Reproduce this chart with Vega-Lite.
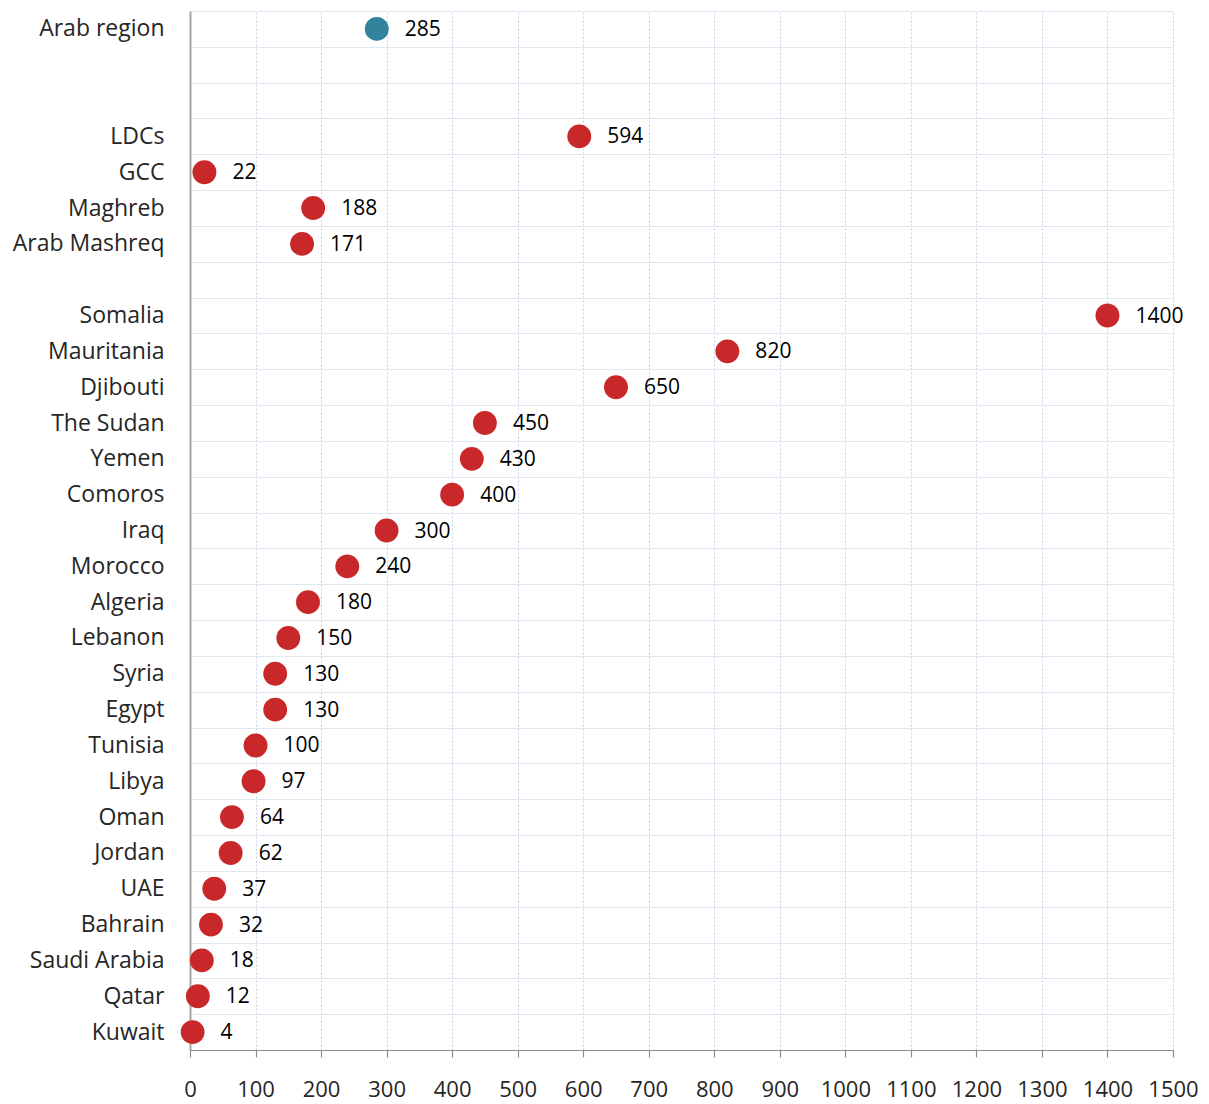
{
  "$schema": "https://vega.github.io/schema/vega-lite/v6.json",
  "autosize": {"type": "none"},
  "padding": {"left": 190, "top": 11, "right": 36, "bottom": 54},
  "width": 983,
  "height": 1039,
  "background": "white",
  "config": {"view": {"stroke": null}},
  "data": {"values": [
    {"name": "Arab region", "value": 285, "kind": "region"},
    {"name": "LDCs", "value": 594, "kind": "group"},
    {"name": "GCC", "value": 22, "kind": "group"},
    {"name": "Maghreb", "value": 188, "kind": "group"},
    {"name": "Arab Mashreq", "value": 171, "kind": "group"},
    {"name": "Somalia", "value": 1400, "kind": "country"},
    {"name": "Mauritania", "value": 820, "kind": "country"},
    {"name": "Djibouti", "value": 650, "kind": "country"},
    {"name": "The Sudan", "value": 450, "kind": "country"},
    {"name": "Yemen", "value": 430, "kind": "country"},
    {"name": "Comoros", "value": 400, "kind": "country"},
    {"name": "Iraq", "value": 300, "kind": "country"},
    {"name": "Morocco", "value": 240, "kind": "country"},
    {"name": "Algeria", "value": 180, "kind": "country"},
    {"name": "Lebanon", "value": 150, "kind": "country"},
    {"name": "Syria", "value": 130, "kind": "country"},
    {"name": "Egypt", "value": 130, "kind": "country"},
    {"name": "Tunisia", "value": 100, "kind": "country"},
    {"name": "Libya", "value": 97, "kind": "country"},
    {"name": "Oman", "value": 64, "kind": "country"},
    {"name": "Jordan", "value": 62, "kind": "country"},
    {"name": "UAE", "value": 37, "kind": "country"},
    {"name": "Bahrain", "value": 32, "kind": "country"},
    {"name": "Saudi Arabia", "value": 18, "kind": "country"},
    {"name": "Qatar", "value": 12, "kind": "country"},
    {"name": "Kuwait", "value": 4, "kind": "country"}
  ]},
  "encoding": {
    "y": {
      "field": "name",
      "type": "nominal",
      "scale": {
        "domain": ["Arab region", " ", "  ", "LDCs", "GCC", "Maghreb", "Arab Mashreq", "   ", "Somalia", "Mauritania", "Djibouti", "The Sudan", "Yemen", "Comoros", "Iraq", "Morocco", "Algeria", "Lebanon", "Syria", "Egypt", "Tunisia", "Libya", "Oman", "Jordan", "UAE", "Bahrain", "Saudi Arabia", "Qatar", "Kuwait"],
        "paddingInner": 0,
        "paddingOuter": 0
      },
      "axis": {
        "title": null,
        "ticks": false,
        "tickSize": 0,
        "tickBand": "extent",
        "labelPadding": 26,
        "labelFont": "Open Sans",
        "labelFontSize": 23,
        "labelColor": "#262626",
        "domainColor": "#a6a6a6",
        "domainWidth": 2,
        "grid": true,
        "gridColor": "#dfe7f3",
        "gridWidth": 1
      }
    },
    "x": {
      "field": "value",
      "type": "quantitative",
      "scale": {"domain": [0, 1500], "nice": false},
      "axis": {
        "title": null,
        "values": [0, 100, 200, 300, 400, 500, 600, 700, 800, 900, 1000, 1100, 1200, 1300, 1400, 1500],
        "format": "d",
        "tickSize": 7,
        "tickColor": "#8c8c8c",
        "tickWidth": 1.2,
        "domainColor": "#8c8c8c",
        "domainWidth": 1.2,
        "labelPadding": 22,
        "labelFont": "Open Sans",
        "labelFontSize": 22,
        "labelColor": "#262626",
        "labelFlush": false,
        "labelOverlap": false,
        "grid": true,
        "gridColor": "#c4d3ea",
        "gridDash": [2, 2],
        "gridWidth": 1
      }
    }
  },
  "layer": [
    {
      "mark": {"type": "circle", "size": 570, "opacity": 1},
      "encoding": {
        "color": {
          "condition": {"test": "datum.kind === 'region'", "value": "#31849b"},
          "value": "#c9282b"
        }
      }
    },
    {
      "mark": {"type": "text", "align": "left", "baseline": "middle", "dx": 28, "dy": 1, "font": "Open Sans", "fontSize": 21, "fontWeight": 500, "color": "#000000"},
      "encoding": {"text": {"field": "value", "type": "quantitative"}}
    }
  ]
}
